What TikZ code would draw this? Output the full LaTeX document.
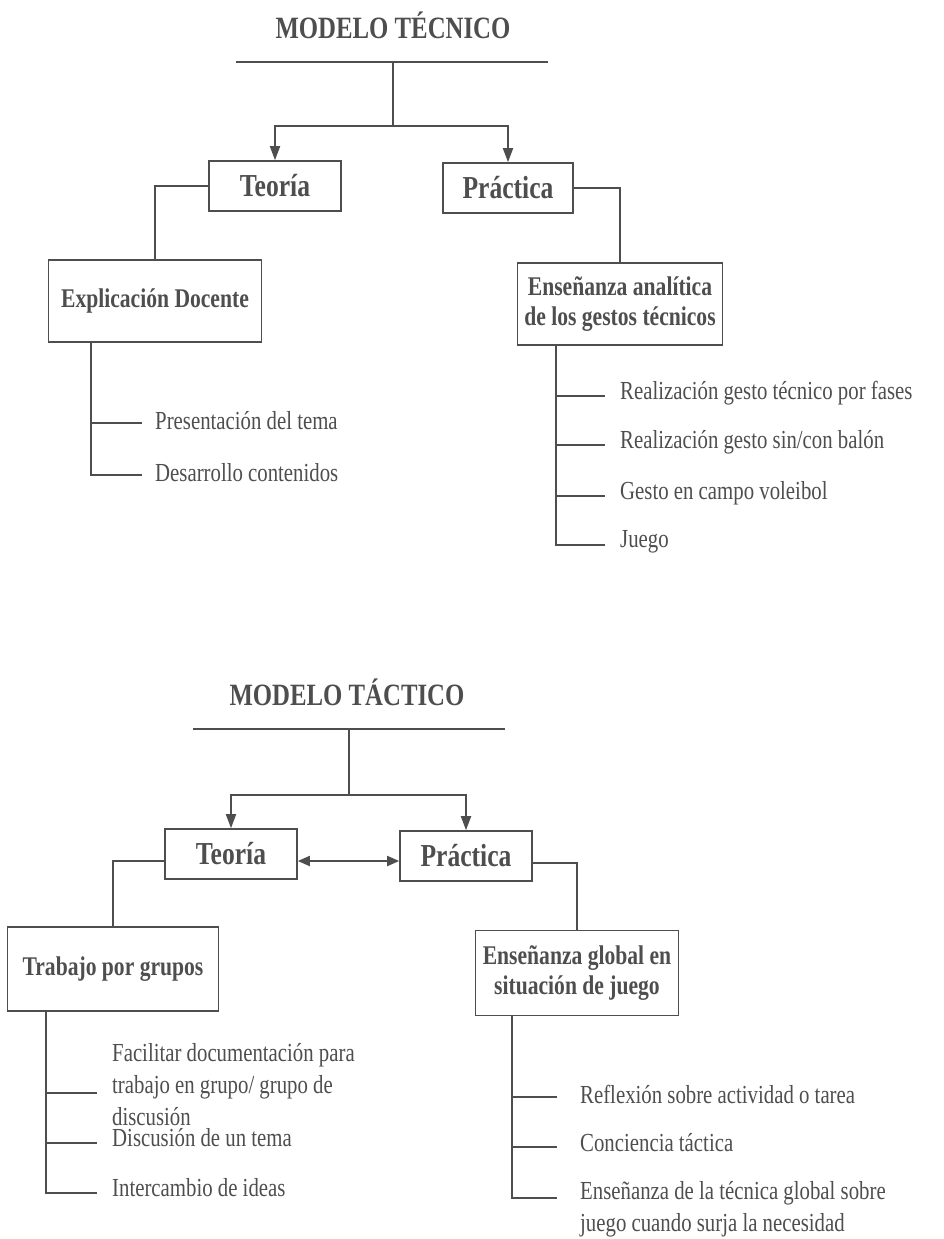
\documentclass[tikz,border=0pt]{standalone}
\usepackage{fontspec}
\setmainfont[FakeStretch=0.8]{Liberation Serif}
\usetikzlibrary{arrows.meta}
\definecolor{tinta}{HTML}{4E4E4E}
\tikzset{
  caja/.style={draw=tinta,line width=1.6pt,text=tinta,align=center,inner sep=0pt,
    font=\bfseries\fontsize{27pt}{30pt}\selectfont},
  rama/.style={draw=tinta,line width=1.8pt},
  flecha/.style={rama,-{Triangle[length=14pt,width=10pt]}},
  item/.style={anchor=west,text=tinta,align=left,inner sep=0pt,
    font=\fontsize{26pt}{32pt}\selectfont},
  titulo/.style={text=tinta,inner sep=0pt,font=\bfseries\fontsize{31pt}{35pt}\selectfont}
}
\begin{document}
\begin{tikzpicture}[x=1pt,y=-1pt]
    \useasboundingbox (0,0) rectangle (943,1239);
    % modelo tecnico
    \node[titulo] (tit1) at (393,25) {MODELO TÉCNICO};
    \coordinate (l1a) at (236,62);
    \coordinate (l1b) at (548,62);
    \coordinate (nudo1) at (393,126);
    \draw[rama,line width=2.6pt] (l1a) -- (l1b);
    \draw[rama] (nudo1 |- l1a) -- (nudo1);
    \node[caja,minimum width=132pt,minimum height=50pt,font=\bfseries\fontsize{32pt}{36pt}\selectfont] (teo1) at (275,186) {Teoría};
    \node[caja,minimum width=130pt,minimum height=50pt,font=\bfseries\fontsize{32pt}{36pt}\selectfont] (pra1) at (508,188) {Práctica};
    \draw[flecha] (nudo1) -| (teo1.north);
    \draw[flecha] (nudo1) -| (pra1.north);
    \node[caja,minimum width=213pt,minimum height=82pt] (expl) at (155,301) {Explicación Docente};
    \node[caja,minimum width=205pt,minimum height=82pt] (ensa1) at (620,304) {Enseñanza analítica\\de los gestos técnicos};
    \draw[rama] (teo1.west) -| (expl.north);
    \draw[rama] (pra1.east) -| (ensa1.north);
    \coordinate (tronco1) at ([xshift=43pt]expl.south west);
    \coordinate (tronco2) at ([xshift=39pt]ensa1.south west);
    \foreach \n/\yy/\txt in {1/423/Presentación del tema,2/475/Desarrollo contenidos} {
      \node[item] (tec\n) at (155,\yy-2) {\txt};
      \coordinate (btec\n) at (142,\yy);
      \draw[rama] (tronco1) |- (btec\n);
    }
    \foreach \n/\yy/\txt in {1/396/Realización gesto técnico por fases,2/445/{Realización gesto sin/con balón},
        3/496/Gesto en campo voleibol,4/545/Juego} {
      \node[item] (pra\n) at (620,\yy-3) {\txt};
      \coordinate (bpra\n) at (605,\yy);
      \draw[rama] (tronco2) |- (bpra\n);
    }
    % modelo tactico
    \node[titulo] (tit2) at (347,692) {MODELO TÁCTICO};
    \coordinate (l2a) at (193,729);
    \coordinate (l2b) at (505,729);
    \coordinate (nudo2) at (349,795);
    \draw[rama,line width=2.6pt] (l2a) -- (l2b);
    \draw[rama] (nudo2 |- l2a) -- (nudo2);
    \node[caja,minimum width=132pt,minimum height=50pt,font=\bfseries\fontsize{32pt}{36pt}\selectfont] (teo2) at (231,854) {Teoría};
    \node[caja,minimum width=132pt,minimum height=50pt,font=\bfseries\fontsize{32pt}{36pt}\selectfont] (pra2) at (466,856) {Práctica};
    \draw[flecha] (nudo2) -| (teo2.north);
    \draw[flecha] (nudo2) -| (pra2.north);
    \draw[rama,{Triangle[length=12pt,width=10pt]}-{Triangle[length=12pt,width=10pt]}] ([yshift=-7pt]teo2.east) -- ([yshift=-7pt]teo2.east -| pra2.west);
    \node[caja,minimum width=211pt,minimum height=84pt] (trab) at (113,969) {Trabajo por grupos};
    \node[caja,minimum width=203pt,minimum height=85pt] (ensa2) at (577,973) {Enseñanza global en\\situación de juego};
    \draw[rama] ([yshift=-7pt]teo2.west) -| (trab.north);
    \draw[rama] ([yshift=-7pt]pra2.east) -| (ensa2.north);
    \coordinate (tronco3) at ([xshift=39pt]trab.south west);
    \coordinate (tronco4) at ([xshift=37pt]ensa2.south west);
    \foreach \n/\yy/\dy/\txt in {1/1093/-8/{Facilitar documentación para\\trabajo en grupo/ grupo de\\discusión},
        2/1143/-5/Discusión de un tema,3/1193/-5/Intercambio de ideas} {
      \node[item] (tac\n) at (112,\yy+\dy) {\txt};
      \coordinate (btac\n) at (97,\yy);
      \draw[rama] (tronco3) |- (btac\n);
    }
    \foreach \n/\yy/\dy/\txt in {1/1097/-3/Reflexión sobre actividad o tarea,2/1147/-4/Conciencia táctica,
        3/1198/11/{Enseñanza de la técnica global sobre\\juego cuando surja la necesidad}} {
      \node[item] (glo\n) at (580,\yy+\dy) {\txt};
      \coordinate (bglo\n) at (557,\yy);
      \draw[rama] (tronco4) |- (bglo\n);
    }
\end{tikzpicture}
\end{document}
